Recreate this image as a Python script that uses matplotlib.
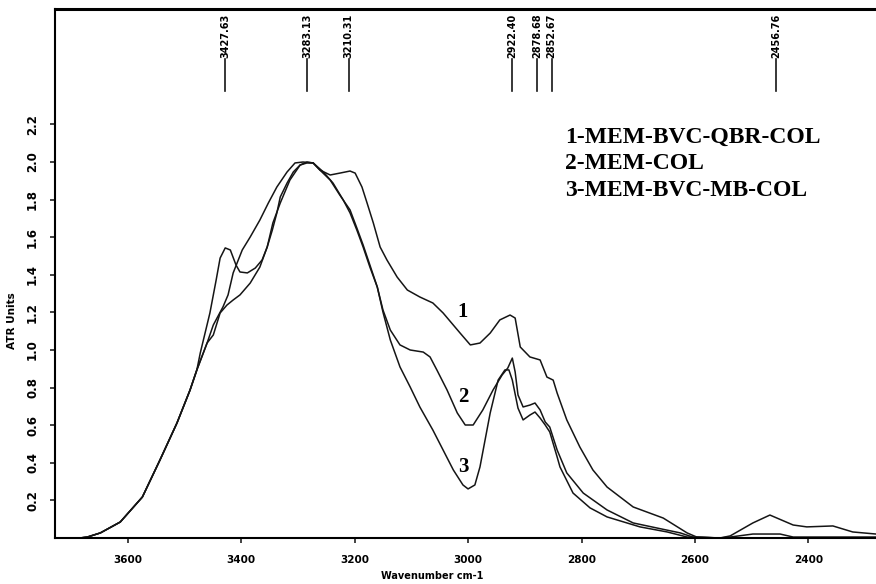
import numpy as np
import matplotlib.pyplot as plt
import matplotlib.transforms as mtransforms

# ATR spectra, wavenumber (cm-1) vs ATR units
rise_wn = [3684, 3671, 3648, 3613, 3574, 3543, 3513, 3490, 3478]
rise_val = [0.0, 0.005, 0.027, 0.085, 0.218, 0.415, 0.612, 0.787, 0.894]

wn1 = [3472, 3455, 3444, 3437, 3428, 3419, 3409, 3402, 3389, 3375, 3363, 3354, 3345, 3337,
       3331, 3319, 3308, 3296, 3284, 3273, 3261, 3243, 3226, 3208, 3199, 3187, 3178, 3167,
       3155, 3143, 3125, 3107, 3085, 3062, 3044, 3014, 2996, 2979, 2961, 2944, 2926, 2917,
       2908, 2891, 2873, 2861, 2850, 2843, 2826, 2803, 2780, 2755, 2709, 2656, 2614, 2597,
       2556, 2538, 2498, 2468, 2427, 2403, 2357, 2322, 2281]
val1 = [0.984, 1.197, 1.372, 1.489, 1.543, 1.532, 1.452, 1.415, 1.41, 1.436, 1.479, 1.548,
        1.638, 1.729, 1.814, 1.888, 1.947, 1.984, 1.995, 1.995, 1.957, 1.931, 1.941, 1.952,
        1.941, 1.867, 1.782, 1.676, 1.548, 1.479, 1.388, 1.319, 1.282, 1.25, 1.197, 1.09,
        1.027, 1.037, 1.09, 1.16, 1.186, 1.17, 1.016, 0.963, 0.947, 0.856, 0.84, 0.771,
        0.628, 0.484, 0.362, 0.271, 0.165, 0.106, 0.027, 0.005, 0.0, 0.011, 0.08, 0.122,
        0.069, 0.059, 0.064, 0.032, 0.021]

wn2 = [3460, 3449, 3432, 3423, 3414, 3398, 3384, 3367, 3352, 3337, 3319, 3305, 3291, 3273,
       3255, 3238, 3220, 3208, 3196, 3185, 3173, 3160, 3150, 3137, 3120, 3102, 3079, 3067,
       3055, 3037, 3019, 3005, 2991, 2974, 2956, 2940, 2930, 2922, 2917, 2912, 2903, 2891,
       2882, 2873, 2864, 2856, 2843, 2826, 2797, 2755, 2709, 2667, 2626, 2604, 2556, 2538,
       2498, 2450, 2427, 2281]
val2 = [1.037, 1.133, 1.229, 1.293, 1.41, 1.532, 1.601, 1.691, 1.782, 1.867, 1.947, 1.995,
        2.0, 1.995, 1.947, 1.888, 1.798, 1.729, 1.638, 1.548, 1.441, 1.335, 1.213, 1.106,
        1.027, 1.0, 0.989, 0.963, 0.894, 0.787, 0.665, 0.601, 0.601, 0.681, 0.787, 0.867,
        0.904, 0.957, 0.883, 0.761, 0.697, 0.707, 0.718, 0.681, 0.617, 0.59, 0.468, 0.346,
        0.239, 0.149, 0.08, 0.053, 0.027, 0.005, 0.0, 0.005, 0.021, 0.021, 0.005, 0.005]

wn3 = [3460, 3449, 3437, 3425, 3414, 3402, 3384, 3367, 3354, 3344, 3331, 3314, 3296, 3284,
       3273, 3261, 3243, 3226, 3208, 3196, 3185, 3173, 3160, 3150, 3137, 3120, 3102, 3085,
       3062, 3044, 3026, 3009, 3000, 2988, 2979, 2961, 2947, 2935, 2928, 2922, 2912, 2903,
       2891, 2882, 2873, 2864, 2856, 2843, 2838, 2815, 2785, 2755, 2697, 2649, 2614, 2556,
       2281]
val3 = [1.037, 1.08, 1.197, 1.239, 1.266, 1.293, 1.356, 1.441, 1.548, 1.676, 1.782, 1.904,
        1.984, 2.0, 1.995, 1.957, 1.904, 1.824, 1.745, 1.649, 1.559, 1.452, 1.335, 1.202,
        1.053, 0.91, 0.803, 0.697, 0.574, 0.468, 0.362, 0.282, 0.261, 0.282, 0.378, 0.665,
        0.84, 0.894, 0.894, 0.84, 0.691, 0.628, 0.654, 0.67, 0.638, 0.601, 0.564, 0.431,
        0.378, 0.239, 0.16, 0.112, 0.059, 0.032, 0.005, 0.0, 0.0]

peak_wn = [3427.63, 3283.13, 3210.31, 2922.40, 2878.68, 2852.67, 2456.76]
curve_tags = ['1', '2', '3']
curve_tag_pos = [(3009, 1.2), (3009, 0.75), (3009, 0.38)]
legend_lines = ['1-MEM-BVC-QBR-COL', '2-MEM-COL', '3-MEM-BVC-MB-COL']
xticks = [3600, 3400, 3200, 3000, 2800, 2600, 2400]
yticks = [0.2, 0.4, 0.6, 0.8, 1.0, 1.2, 1.4, 1.6, 1.8, 2.0, 2.2]

fig = plt.figure(figsize=(8.76, 5.84), dpi=100)
ax = fig.add_axes([0.0628, 0.0788, 0.9372, 0.9058])

for wn, val in [(wn1, val1), (wn2, val2), (wn3, val3)]:
    x = np.array(rise_wn + wn)
    y = np.array(rise_val + val)
    ax.plot(x, y, color='#151515', lw=1.1)

ax.set_xlim(3728, 2281)
ax.set_ylim(0, 2.814)

ax.set_xticks(xticks)
ax.set_xticklabels([str(t) for t in xticks], fontsize=7.5, fontweight='bold')
ax.set_yticks(yticks)
ax.set_yticklabels(['%.1f' % t for t in yticks], fontsize=8.5, fontweight='bold',
                   rotation=90, va='center')
ax.tick_params(axis='both', direction='out', length=3.5, width=1.2, color='#222222')
ax.tick_params(axis='x', pad=9)
ax.tick_params(axis='y', pad=8)

for s in ['left', 'bottom']:
    ax.spines[s].set_linewidth(1.5)
ax.spines['top'].set_linewidth(2.2)
ax.spines['right'].set_visible(False)

ax.set_xlabel('Wavenumber cm-1', fontsize=7, fontweight='bold')
ax.set_ylabel('ATR Units', fontsize=7.5, fontweight='bold')
ax.yaxis.set_label_coords(-0.046, 0.41)
ax.xaxis.set_label_coords(0.46, -0.062)

# peak markers along the top
trans = mtransforms.blended_transform_factory(ax.transData, ax.transAxes)
for p in peak_wn:
    ax.plot([p, p], [0.845, 0.906], color='#151515', lw=1.2, transform=trans, clip_on=False)
    ax.text(p, 0.908, '%.2f' % p, rotation=90, ha='center', va='bottom',
            fontsize=7, fontweight='bold', transform=trans)

for tag, (tx, ty) in zip(curve_tags, curve_tag_pos):
    ax.text(tx, ty, tag, fontsize=15, fontweight='bold', family='Liberation Serif',
            ha='center', va='center')

for i, line in enumerate(legend_lines):
    fig.text(0.645, 0.765 - i * 0.0455, line, fontsize=17, fontweight='bold',
             family='Liberation Serif', ha='left', va='center')

fig.savefig('out.png', dpi=100)
